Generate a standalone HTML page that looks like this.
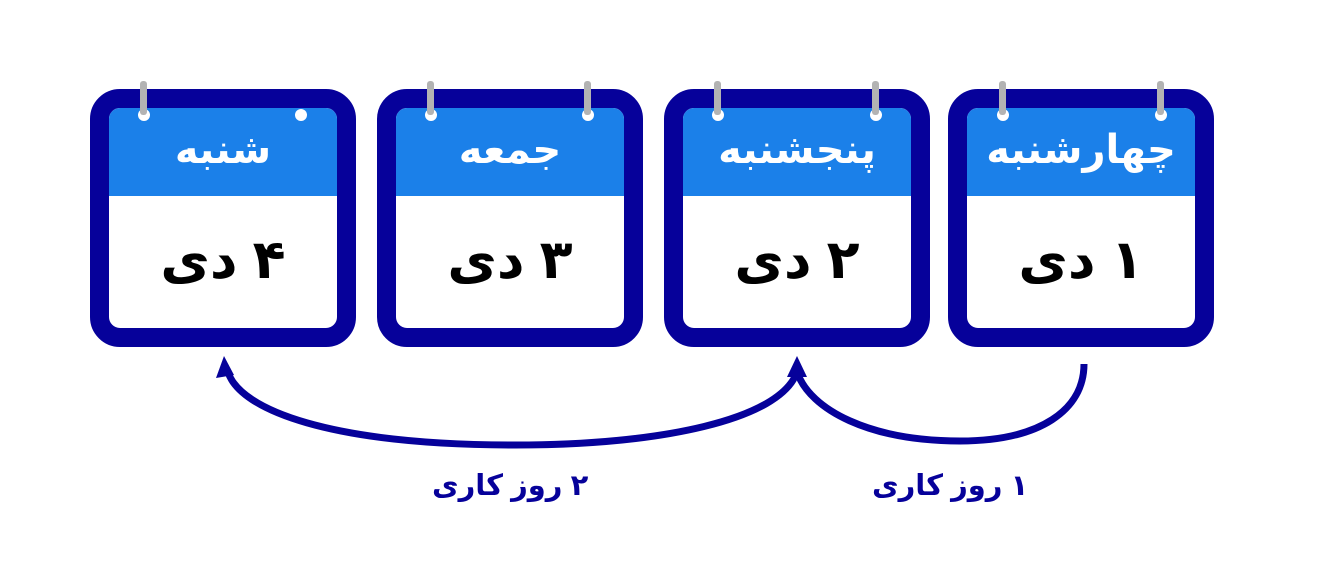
<!DOCTYPE html>
<html><head><meta charset="utf-8"><style>
body{margin:0;width:1336px;height:583px;background:#fff;position:relative;overflow:hidden;font-family:"Liberation Sans","DejaVu Sans",sans-serif}
.cal{position:absolute;top:89px;width:228px;height:220px;border:19px solid #06019a;border-radius:30px;background:#fff;overflow:hidden}
.hd{height:88px;background:#1b80e9;color:#fff;font-weight:bold;font-size:40px;text-align:center;line-height:84px;direction:rtl}
.bd{text-align:center;font-weight:bold;font-size:54px;line-height:128px;direction:rtl;color:#000}
.ring{position:absolute;top:81px;width:7px;height:34px;background:#b3b3b3;border-radius:3px}
.hole{position:absolute;width:12px;height:12px;border-radius:50%;background:#fff;top:109px}
.lbl{position:absolute;top:468px;color:#06019a;font-weight:bold;font-size:29px;direction:rtl;white-space:nowrap}
</style></head><body>
<div class="cal" style="left:90px"><div class="hd">شنبه</div><div class="bd">۴ دی</div></div>
<div class="cal" style="left:377px"><div class="hd">جمعه</div><div class="bd">۳ دی</div></div>
<div class="cal" style="left:664px"><div class="hd">پنجشنبه</div><div class="bd">۲ دی</div></div>
<div class="cal" style="left:948px"><div class="hd">چهارشنبه</div><div class="bd">۱ دی</div></div>
<div class="hole" style="left:138px"></div><div class="ring" style="left:140px"></div>
<div class="hole" style="left:295px"></div>
<div class="hole" style="left:425px"></div><div class="ring" style="left:427px"></div>
<div class="hole" style="left:582px"></div><div class="ring" style="left:584px"></div>
<div class="hole" style="left:712px"></div><div class="ring" style="left:714px"></div>
<div class="hole" style="left:870px"></div><div class="ring" style="left:872px"></div>
<div class="hole" style="left:997px"></div><div class="ring" style="left:999px"></div>
<div class="hole" style="left:1155px"></div><div class="ring" style="left:1157px"></div>
<svg width="1336" height="583" style="position:absolute;left:0;top:0">
<g fill="none" stroke="#06019a" stroke-width="7">
<path d="M1084 364 C1084 410 1040 441 960 441 C870 441 810 410 797 372"/>
<path d="M797 372 C780 420 660 445 515 445 C330 445 240 410 228 372"/>
</g>
<polygon points="797,356 787,377 807,377" fill="#06019a"/>
<polygon points="224,356 216,378 234,375" fill="#06019a"/>
</svg>
<div class="lbl" style="left:432px">۲ روز کاری</div>
<div class="lbl" style="left:872px">۱ روز کاری</div>
</body></html>
